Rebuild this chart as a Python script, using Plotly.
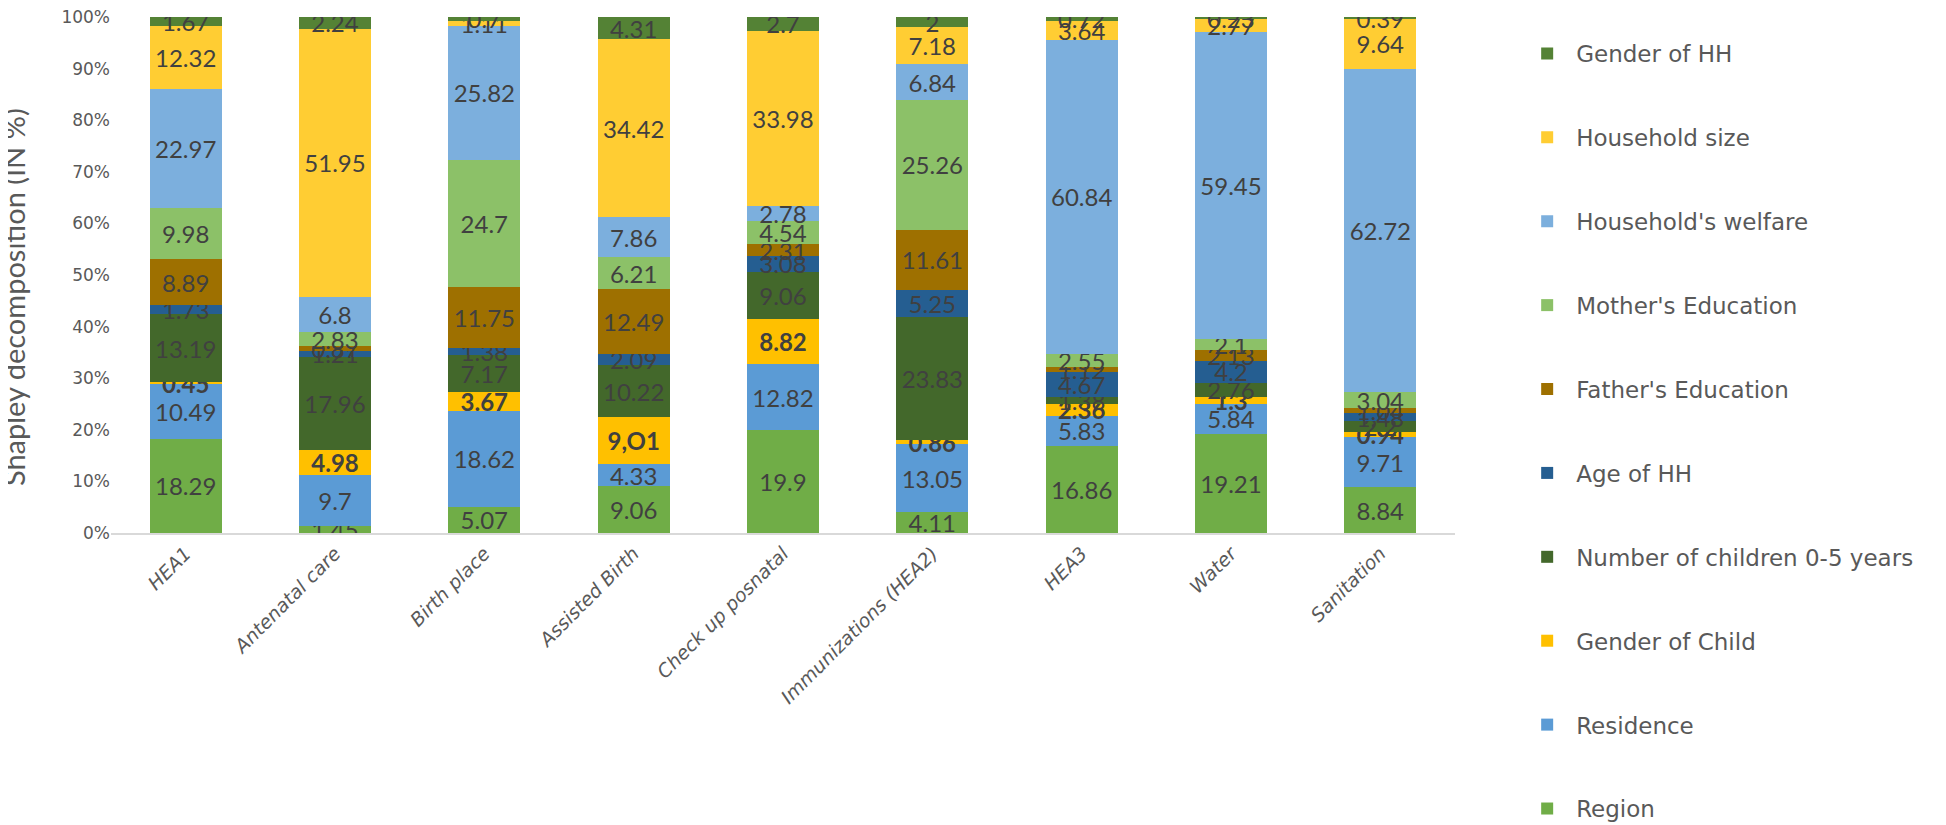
import plotly.graph_objects as go

categories = ["HEA1", "Antenatal care", "Birth place", "Assisted Birth", "Check up posnatal",
              "Immunizations (HEA2)", "HEA3", "Water", "Sanitation"]

region = [18.29, 1.45, 5.07, 9.06, 19.9, 4.11, 16.86, 19.21, 8.84]
residence = [10.49, 9.7, 18.62, 4.33, 12.82, 13.05, 5.83, 5.84, 9.71]
gender_child = [0.45, 4.98, 3.67, 9.01, 8.82, 0.86, 2.36, 1.3, 0.94]
n_children = [13.19, 17.96, 7.17, 10.22, 9.06, 23.83, 1.38, 2.76, 2.2]
age_hh = [1.73, 1.21, 1.38, 2.09, 3.08, 5.25, 4.67, 4.2, 1.48]
father_edu = [8.89, 0.87, 11.75, 12.49, 2.31, 11.61, 1.12, 2.13, 1.04]
mother_edu = [9.98, 2.83, 24.7, 6.21, 4.54, 25.26, 2.55, 2.1, 3.04]
welfare = [22.97, 6.8, 25.82, 7.86, 2.78, 6.84, 60.84, 59.45, 62.72]
hh_size = [12.32, 51.95, 1.11, 34.42, 33.98, 7.18, 3.64, 2.77, 9.64]
gender_hh = [1.67, 2.24, 0.7, 4.31, 2.7, 2.0, 0.72, 0.23, 0.39]

gender_child_labels = ["0.45", "4.98", "3.67", "9,O1", "8.82", "0.86", "2.36", "1.3", "0.94"]

y_ticks = [0, 10, 20, 30, 40, 50, 60, 70, 80, 90, 100]
y_tick_labels = ["0%", "10%", "20%", "30%", "40%", "50%", "60%", "70%", "80%", "90%", "100%"]

y_title = "Shapley decomposition (IN %)"

series = [
    ("Region", region, "#70AD47", None),
    ("Residence", residence, "#5B9BD5", None),
    ("Gender of Child", gender_child, "#FFC000", gender_child_labels),
    ("Number of children 0-5 years", n_children, "#43682B", None),
    ("Age of HH", age_hh, "#255E91", None),
    ("Father's Education", father_edu, "#9E7000", None),
    ("Mother's Education", mother_edu, "#8CC168", None),
    ("Household's welfare", welfare, "#7CAFDD", None),
    ("Household size", hh_size, "#FFCD33", None),
    ("Gender of HH", gender_hh, "#548235", None),
]

fig = go.Figure()
n = len(series)
for i, (name, vals, color, labels) in enumerate(series):
    txt = labels if labels is not None else [f"{v:g}" for v in vals]
    tmpl = "<b>%{text}</b>" if name == "Gender of Child" else "%{text}"
    fig.add_trace(go.Bar(
        x=categories, y=vals, name=name, marker=dict(color=color, line=dict(width=0)),
        text=txt, texttemplate=tmpl, textposition="inside", insidetextanchor="middle",
        textangle=0, textfont=dict(family="Lato, Open Sans, sans-serif", size=24, color="#404040"),
        legendgroup=f"g{i}", legendrank=n - i,
    ))

fig.update_layout(
    barmode="stack", barnorm="percent", bargap=0.52,
    width=1946, height=825,
    paper_bgcolor="white", plot_bgcolor="white",
    margin=dict(l=103, r=499, t=9, b=300, autoexpand=False),
    uniformtext=dict(minsize=24, mode="show"),
    font=dict(family="DejaVu Sans, sans-serif", color="#595959"),
    legend=dict(
        x=1.047, xanchor="left", y=0.971, yanchor="top",
        traceorder="grouped", tracegroupgap=51, maxheight=825,
        font=dict(family="DejaVu Sans, sans-serif", size=23, color="#595959"),
        itemwidth=48,
    ),
    showlegend=True,
    annotations=[dict(
        text=y_title, xref="paper", yref="paper", x=-0.073, y=0.457,
        xanchor="center", yanchor="middle", textangle=-90, showarrow=False,
        font=dict(family="Lato, sans-serif", size=29, color="#595959"),
    )],
)
fig.update_xaxes(
    tickangle=-45, showline=True, linecolor="#D9D9D9", linewidth=2,
    tickfont=dict(family="DejaVu Sans, sans-serif", size=19, color="#595959", style="italic"),
    ticks="", showgrid=False, automargin=False,
)
fig.update_yaxes(
    range=[0, 100], tickvals=y_ticks, ticktext=y_tick_labels,
    showgrid=False, zeroline=False, showline=False, automargin=False,
    ticklabeloverflow="allow",
    tickfont=dict(family="DejaVu Sans, sans-serif", size=17, color="#595959"),
)

fig.write_html("out.html")
